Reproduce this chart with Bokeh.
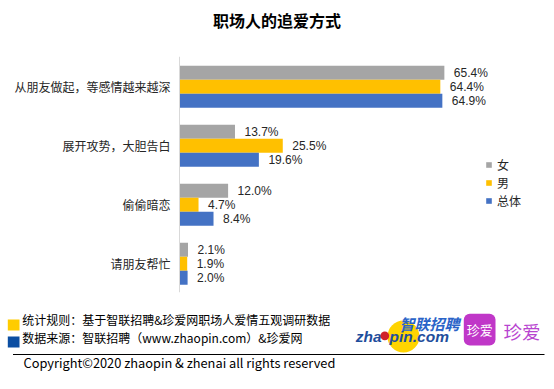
from bokeh.plotting import figure
from bokeh.models import ColumnDataSource, FactorRange, Range1d, Span
from bokeh.transform import dodge
from bokeh.layouts import column
from bokeh.embed import file_html
from bokeh.resources import INLINE
from bokeh.core.properties import value

# ---------------- data ----------------
title_text = "职场人的追爱方式"
categories = ["从朋友做起，等感情越来越深", "展开攻势，大胆告白", "偷偷暗恋", "请朋友帮忙"]
series_names = ["女", "男", "总体"]
female = [65.4, 13.7, 12.0, 2.1]
male = [64.4, 25.5, 4.7, 1.9]
overall = [64.9, 19.6, 8.4, 2.0]
note_lines = ["统计规则：基于智联招聘&珍爱网职场人爱情五观调研数据",
              "数据来源：智联招聘（www.zhaopin.com）&珍爱网"]
copyright_text = "Copyright©2020 zhaopin & zhenai  all rights reserved"
logo_cn = "智联招聘"
logo_en = ["zha", "pin.com"]
zhenai = "珍爱"

# ---------------- style ----------------
colors = ["#A5A5A5", "#FFC000", "#4472C4"]
CJK = "Noto Sans CJK SC"
NUM = "Liberation Sans"
W = 546
PX_PER_PCT = 4.05
AXIS_PX = 179      # pixel position of the 0% line inside the figure
FRAME_H = 236
TH = 48            # title strip height
FH = 77            # footer strip height

# ---------------- title ----------------
t = figure(width=W, height=TH, x_range=Range1d(0, W), y_range=Range1d(TH, 0),
           output_backend="svg", toolbar_location=None, min_border=0,
           x_axis_location=None, y_axis_location=None)
t.grid.visible = False
t.outline_line_color = None
t.text(x=[276.5], y=[19.5], text=[title_text], text_font=value(CJK),
       text_font_style="bold", text_font_size="16px", text_align="center",
       text_baseline="middle", text_color="#000000")

# ---------------- chart ----------------
src = ColumnDataSource(dict(
    cat=categories, f=female, m=male, o=overall,
    base=[0] * len(categories),
    fl=[f"{v:.1f}%" for v in female],
    ml=[f"{v:.1f}%" for v in male],
    ol=[f"{v:.1f}%" for v in overall],
))

p = figure(y_range=FactorRange(*reversed(categories)),
           x_range=Range1d(-AXIS_PX / PX_PER_PCT, (W - AXIS_PX) / PX_PER_PCT),
           frame_width=W, frame_height=FRAME_H,
           min_border_left=0, min_border_right=0, min_border_top=8, min_border_bottom=12,
           output_backend="svg", toolbar_location=None,
           x_axis_location=None, y_axis_location=None)
p.grid.visible = False
p.outline_line_color = None

# category axis line at 0%
p.add_layout(Span(location=0, dimension="height", line_color="#D9D9D9", line_width=1))

h = 14 / 59
for i, (col, name, c) in enumerate(zip(["f", "m", "o"], series_names, colors)):
    off = (1 - i) * h - 0.0136
    p.hbar(y=dodge("cat", off, range=p.y_range), left=0, right=col, height=h,
           fill_color=c, line_color=None, legend_label=name, source=src)
    p.text(x=col, y=dodge("cat", off, range=p.y_range), text=col + "l", source=src,
           x_offset=9.5, text_baseline="middle", text_align="left",
           text_font=value(NUM), text_font_size="12px", text_color="#262626")

# category labels
p.text(x="base", y="cat", text="cat", source=src, x_offset=-9, text_align="right",
       text_baseline="middle", text_font=value(CJK), text_font_size="12px",
       text_color="#262626")

lg = p.legend[0]
lg.location = (AXIS_PX + 306, 83)
lg.margin = 0
lg.padding = 0
lg.spacing = 1
lg.glyph_width = 7
lg.glyph_height = 7
lg.label_height = 12
lg.label_standoff = 5
lg.label_text_font = CJK
lg.label_text_font_size = "12px"
lg.label_text_color = "#262626"
lg.border_line_color = None
lg.background_fill_alpha = 0

# ---------------- footer ----------------
f = figure(width=W, height=FH, x_range=Range1d(0, W), y_range=Range1d(FH, 0),
           output_backend="svg", toolbar_location=None, min_border=0,
           x_axis_location=None, y_axis_location=None)
f.grid.visible = False
f.outline_line_color = None

f.quad(left=[7.3, 7.3], right=[19, 19], top=[15, 32], bottom=[26, 43],
       fill_color=["#FFCC00", "#0B4EA2"], line_color=None)
f.text(x=[21.7, 21.7], y=[15, 33], text=note_lines, text_font=value(CJK),
       text_font_size="12px", text_baseline="middle", text_color="#000000")
f.segment(x0=[12.5], y0=[50], x1=[544], y1=[50], line_color="#000000", line_width=1)
f.text(x=[23], y=[58], text=[copyright_text], text_font=value(CJK),
       text_font_size="12.8px", text_baseline="middle", text_color="#000000")

# zhaopin logo
f.circle(x=[403], y=[32], radius=16, fill_color="#FFD400", line_color=None)
f.text(x=[459], y=[18.5], text=[logo_cn], text_font=value(CJK), text_font_style="bold italic",
       text_font_size="15px", text_align="right", text_baseline="middle", text_color="#2A64C8")
f.text(x=[381], y=[32], text=[logo_en[0]], text_font=value(NUM), text_font_style="bold italic",
       text_font_size="15.5px", text_align="right", text_baseline="middle", text_color="#1F4E9C")
f.text(x=[389], y=[32], text=[logo_en[1]], text_font=value(NUM), text_font_style="bold italic",
       text_font_size="15.5px", text_align="left", text_baseline="middle", text_color="#1F4E9C")
f.circle(x=[384.3], y=[31.3], radius=4.4, fill_color="#D0202A", line_color=None)

# zhenai logo
f.quad(left=[463.3], right=[495], top=[9.3], bottom=[41], fill_color="#C037C8",
       line_color=None, border_radius=6)
f.text(x=[479.2], y=[25], text=[zhenai], text_font=value(CJK), text_font_size="13px",
       text_align="center", text_baseline="middle", text_color="#FFFFFF")
f.text(x=[503], y=[26], text=[zhenai], text_font=value(CJK), text_font_size="18.5px",
       text_align="left", text_baseline="middle", text_color="#B845D0")

layout = column(t, p, f, spacing=0)
open("out.html", "w").write(file_html(layout, INLINE))
